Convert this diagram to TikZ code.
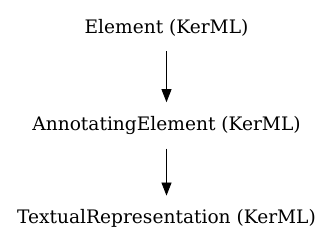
\documentclass[tikz,border=0pt]{standalone}
\usepackage{fontspec}
\setmainfont{DejaVu Serif}
\usetikzlibrary{arrows.meta, positioning}

\begin{document}
\begin{tikzpicture}[
  x=1pt, y=1pt,
  node distance=51pt,
  box/.style={rectangle, text centered, minimum height=46pt, inner sep=0pt, font=\fontsize{18.6}{20}\selectfont},
  arrow/.style={-{Triangle[length=13pt,width=10pt]}, line width=0.8pt}
]
  \useasboundingbox (0,0) rectangle (333,251);
  \node[box] (element) at (166.5,223) {Element (KerML)};
  \node[box, below=of element] (annotating) {AnnotatingElement (KerML)};
  \node[box, below=47pt of annotating] (textual) {TextualRepresentation (KerML)};

  \draw[arrow] (element) -- (annotating);
  \draw[arrow] (annotating) -- (textual);
\end{tikzpicture}
\end{document}
